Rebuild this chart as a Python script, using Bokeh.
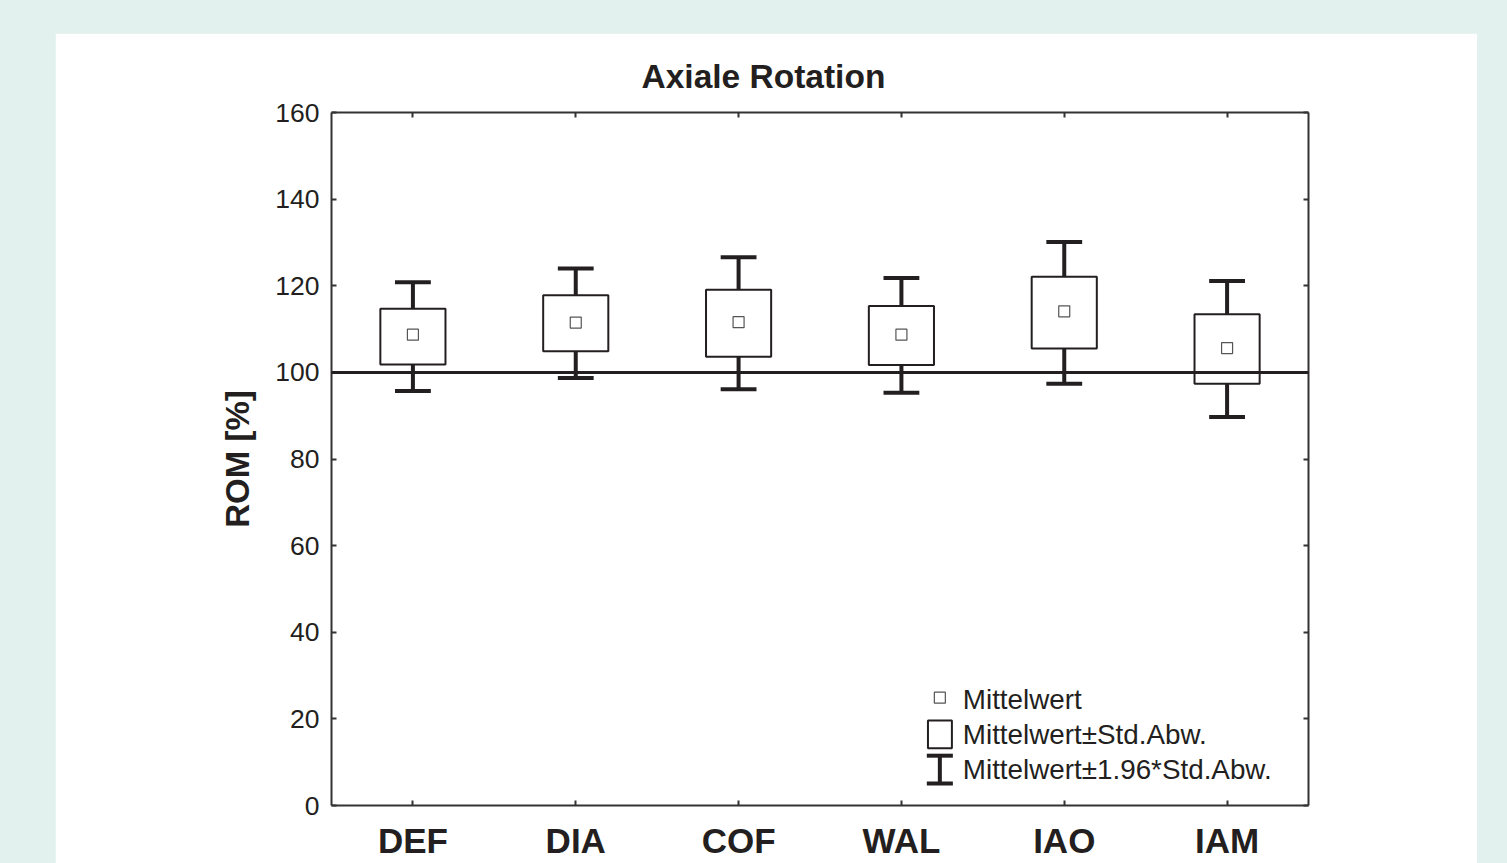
from bokeh.plotting import figure
from bokeh.models import (Range1d, FixedTicker, LinearAxis, Span, Label, ColumnDataSource)
from bokeh.transform import dodge
from bokeh.layouts import column
from bokeh.embed import file_html
from bokeh.resources import INLINE

# ---------------- data ----------------
categories = ["DEF", "DIA", "COF", "WAL", "IAO", "IAM"]
mean_values = [108.7, 111.5, 111.6, 108.7, 114.1, 105.6]
sd_lower = [101.8, 104.9, 103.6, 101.7, 105.5, 97.4]
sd_upper = [114.7, 117.8, 119.1, 115.3, 122.1, 113.4]
ci_lower = [95.7, 98.7, 96.1, 95.3, 97.4, 89.7]
ci_upper = [120.8, 124.0, 126.6, 121.8, 130.1, 121.1]
y_ticks = [0, 20, 40, 60, 80, 100, 120, 140, 160]
reference_value = 100
legend_labels = ["Mittelwert", "Mittelwert\u00b1Std.Abw.", "Mittelwert\u00b11.96*Std.Abw."]

# ---------------- styles ----------------
FONT = "Liberation Sans"
INK = "#231f20"
BG = "#e2f1ee"

# category slots: centre of slot i is i + 0.5
cat_pos = [i + 0.5 for i in range(len(categories))]

src = ColumnDataSource(dict(x=cat_pos, mean=mean_values, lo=sd_lower, hi=sd_upper,
                            wlo=ci_lower, whi=ci_upper))

p = figure(width=1422, height=830, x_range=Range1d(0, len(categories)),
           y_range=Range1d(0, 160), output_backend="svg", toolbar_location=None,
           min_border_left=276, min_border_right=169, min_border_top=79, min_border_bottom=58,
           margin=(33, 30, 0, 55), x_axis_type=None)
p.background_fill_color = "white"
p.border_fill_color = "white"
p.outline_line_color = None
p.grid.visible = False

# title
p.title.text = "Axiale Rotation"
p.title.text_font = FONT
p.title.text_font_size = "33.5px"
p.title.text_font_style = "bold"
p.title.text_color = INK
p.title.align = "left"
p.title.offset = 310
p.title.standoff = 36

# axes
def style_axis(ax):
    ax.axis_line_color = "#333333"
    ax.axis_line_width = 2
    ax.major_tick_line_color = "#333333"
    ax.major_tick_line_width = 2
    ax.major_tick_in = 5
    ax.major_tick_out = 0
    ax.minor_tick_line_color = None

xa = LinearAxis(ticker=FixedTicker(ticks=cat_pos),
                major_label_overrides={x: c for x, c in zip(cat_pos, categories)})
style_axis(xa)
xa.major_label_text_font = FONT
xa.major_label_text_font_size = "35px"
xa.major_label_text_font_style = "bold"
xa.major_label_text_color = INK
xa.major_label_standoff = 15
p.add_layout(xa, "below")

ya = p.yaxis[0]
style_axis(ya)
ya.ticker = FixedTicker(ticks=y_ticks)
ya.major_label_text_font = FONT
ya.major_label_text_font_size = "26.5px"
ya.major_label_text_color = INK
ya.major_label_standoff = 12
ya.axis_label = "ROM [%]"
ya.axis_label_text_font = FONT
ya.axis_label_text_font_size = "33px"
ya.axis_label_text_font_style = "bold"
ya.axis_label_text_color = INK
ya.axis_label_standoff = 16

# right and top frame axes: ticks only, no labels
ra = LinearAxis(ticker=FixedTicker(ticks=y_ticks),
                major_label_overrides={t: "" for t in y_ticks})
style_axis(ra)
p.add_layout(ra, "right")

ta = LinearAxis(ticker=FixedTicker(ticks=cat_pos),
                major_label_overrides={x: "" for x in cat_pos})
style_axis(ta)
p.add_layout(ta, "above")

# boxes (mean +/- SD)
p.vbar(x="x", width=0.4, bottom="lo", top="hi", source=src, fill_color="white",
       line_color=INK, line_width=2)

# whisker stems and caps (mean +/- 1.96 SD)
p.segment(x0="x", x1="x", y0="hi", y1="whi", source=src, line_color=INK, line_width=4)
p.segment(x0="x", x1="x", y0="lo", y1="wlo", source=src, line_color=INK, line_width=4)
p.segment(x0=dodge("x", -0.11), x1=dodge("x", 0.11),
          y0="whi", y1="whi", source=src, line_color=INK, line_width=4)
p.segment(x0=dodge("x", -0.11), x1=dodge("x", 0.11),
          y0="wlo", y1="wlo", source=src, line_color=INK, line_width=4)

# means
p.scatter(x="x", y="mean", source=src, marker="square", size=11, fill_color="white",
          line_color="#555555", line_width=1.2)

# reference line
p.add_layout(Span(location=reference_value, dimension="width", line_color=INK, line_width=3))

# ---------------- legend (drawn by hand) ----------------
LX = 3.736          # legend key centre (x units)
TX = 3.877          # legend text start
ROW_Y = [24.4, 16.4, 8.3]
p.scatter(x=[LX], y=[24.9], marker="square", size=11, fill_color="white",
          line_color="#555555", line_width=1.2)
p.quad(left=[LX - 0.073], right=[LX + 0.074], bottom=[13.2], top=[19.6], fill_color="white",
       line_color=INK, line_width=2)
p.segment(x0=[LX, LX - 0.08, LX - 0.08], x1=[LX, LX + 0.08, LX + 0.08],
          y0=[5.1, 5.1, 11.5], y1=[11.5, 5.1, 11.5], line_color=INK, line_width=4)
for lbl, yy in zip(legend_labels, ROW_Y):
    p.add_layout(Label(x=TX, y=yy, text=lbl, text_font=FONT, text_font_size="27.8px",
                       text_color=INK, text_baseline="middle", text_align="left"))

page = column(p, width=1507, height=863, styles={"background-color": BG})

open("out.html", "w").write(file_html(page, INLINE))
